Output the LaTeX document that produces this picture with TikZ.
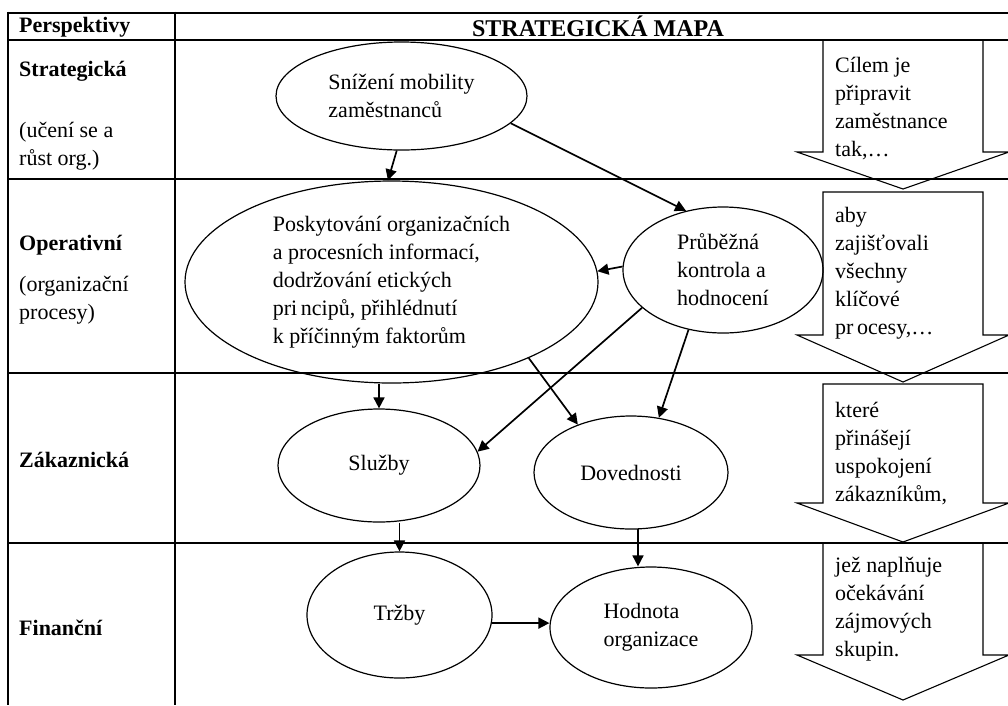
\documentclass[tikz,border=0pt]{standalone}
\usepackage{fontspec}
\setmainfont{Liberation Serif}
\usetikzlibrary{arrows.meta,shapes.geometric}

\tikzset{
  oval/.style={ellipse, draw, line width=1.2pt, inner sep=0pt, align=left},
  link/.style={-{Triangle[length=11pt,width=11pt]}, line width=1.7pt},
  rule/.style={line width=2.6pt},
  blockarrow/.style={line width=1.1pt},
  persp/.style={anchor=west, inner sep=0pt, align=left},
  note/.style={anchor=north west, inner sep=0pt, align=left}
}

\begin{document}
\begin{tikzpicture}[x=1pt, y=-1pt, font=\fontsize{22}{28}\selectfont]
    \useasboundingbox (0,0) rectangle (1008,705);

    % Draw the table
    \draw[rule] (8,13) -- (1008,13);
    \draw[rule] (8,40) -- (1008,40);
    \draw[rule] (8,179) -- (1008,179);
    \draw[rule] (8,373) -- (1008,373);
    \draw[rule] (8,543) -- (1008,543);
    \draw[rule] (8,11.7) -- (8,705);
    \draw[rule] (175,11.7) -- (175,705);

    % Headings
    \node[persp] (hpersp) at (19,27) {\bfseries Perspektivy};
    \node[font=\fontsize{24}{28}\selectfont] (hmap) at (598,26) {\bfseries STRATEGICKÁ MAPA};

    % Perspectives
    \node[persp] (strat) at (19,71) {\bfseries Strategická};
    \node[persp] (stratsub) at (19,146) {(učení se a\\růst org.)};
    \node[persp] (oper) at (19,245) {\bfseries Operativní};
    \node[persp] (opersub) at (19,300) {(organizační\\procesy)};
    \node[persp] (zak) at (19,460) {\bfseries Zákaznická};
    \node[persp] (fin) at (19,628) {\bfseries Finanční};

    % Draw ellipses for the map
    \node[oval, minimum width=251pt, minimum height=108pt] (snizeni) at (401.5,96) {Snížení mobility\\zaměstnanců};
    \node[oval, minimum width=413pt, minimum height=202pt] (posk) at (391.5,282) {Poskytování organizačních\\a procesních informací,\\dodržování etických\\pri\,ncipů, přihlédnutí\\k příčinným faktorům};
    \node[oval, minimum width=200pt, minimum height=126pt] (prub) at (723,270) {Průběžná\\kontrola a\\hodnocení};
    \node[oval, minimum width=202pt, minimum height=113pt] (sluzby) at (379,465.5) {Služby};
    \node[oval, minimum width=194pt, minimum height=113pt] (dov) at (631,472.5) {Dovednosti};
    \node[oval, minimum width=185pt, minimum height=126pt] (trzby) at (399.5,615) {Tržby};
    \node[oval, minimum width=202pt, minimum height=121pt] (hodnota) at (651,627.5) {Hodnota\\organizace};

    % Links
    \draw[link] (snizeni.-95) -- (posk.92);
    \draw[link] (snizeni.-14) -- (prub.122);
    \draw[link] (prub.178) -- (posk.3);
    \draw[link] (prub.205) -- (sluzby.8);
    \draw[link] (prub.240) -- (dov.63);
    \draw[link] (sluzby.north |- posk.south) -- (sluzby.north);
    \draw[link] (posk.-29) -- (dov.138);
    \draw[link] (trzby.north |- sluzby.south) -- (trzby.north);
    \draw[link] (dov.-83) -- (dov.-83 |- hodnota.north);
    \draw[link] (trzby.-5) -- (trzby.-5 -| hodnota.west);

    % Block arrows on the right
    \foreach \ya/\yb/\yc in {40/152/189, 192/335/382, 384/503/542, 543/655/700}
        \draw[blockarrow] (823,\ya) -- (823,\yb) -- (797,\yb) -- (903,\yc) -- (1009,\yb) -- (983,\yb) -- (983,\ya) -- cycle;

    \node[note] (cil) at (835,57) {Cílem je\\připravit\\zaměstnance\\tak,…};
    \node[note] (aby) at (835,207) {aby\\zajišťovali\\všechny\\klíčové\\pr\,ocesy,…};
    \node[note] (ktere) at (835,402) {které\\přinášejí\\uspokojení\\zákazníkům,};
    \node[note] (jez) at (835,557) {jež naplňuje\\očekávání\\zájmových\\skupin.};
\end{tikzpicture}
\end{document}
